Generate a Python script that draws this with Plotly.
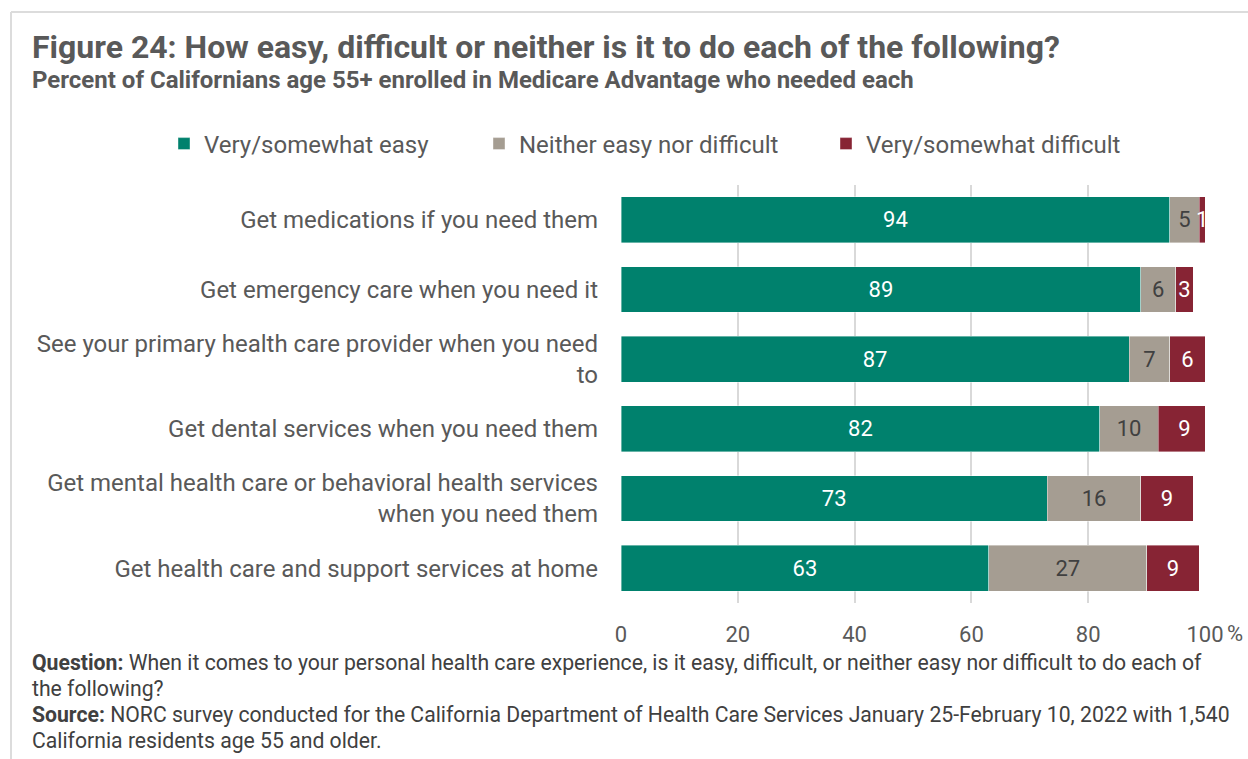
import plotly.graph_objects as go

# Survey items (top to bottom) and shares of respondents, in percent
items = [
    "Get medications if you need them",
    "Get emergency care when you need it",
    "See your primary health care provider when you need<br>to",
    "Get dental services when you need them",
    "Get mental health care or behavioral health services<br>when you need them",
    "Get health care and support services at home",
]
easy = [94, 89, 87, 82, 73, 63]
neither = [5, 6, 7, 10, 16, 27]
difficult = [1, 3, 6, 9, 9, 9]

series_names = ["Very/somewhat easy", "Neither easy nor difficult", "Very/somewhat difficult"]
x_ticks = [0, 20, 40, 60, 80, 100]

W, H = 1248, 759
L, R, T, B = 621, 1205, 185, 603
FONT = "Roboto"
GREY_TXT = "#595959"


def px_x(px):
    return (px - L) / (R - L)


def px_y(py):
    return (B - py) / (B - T)


fig = go.Figure()
series = [
    (series_names[0], easy, "#00816D", "white", "legend"),
    (series_names[1], neither, "#A59D92", "#404040", "legend2"),
    (series_names[2], difficult, "#872434", "white", "legend3"),
]
for name, vals, color, tcolor, leg in series:
    fig.add_trace(go.Bar(
        y=items, x=vals, name=name, orientation="h", legend=leg,
        marker=dict(color=color, line=dict(color="rgba(255,255,255,0.5)", width=0.8)),
        text=[str(v) for v in vals], textposition="inside",
        insidetextanchor="middle", textangle=0, constraintext="none",
        textfont=dict(family=FONT, size=22, color=tcolor),
        hoverinfo="skip",
    ))


def legend_at(square_x):
    # one single-entry legend per series, anchored by its colour swatch
    return dict(
        orientation="h", xref="container", yref="container",
        x=(square_x - 20) / W, y=1 - 144 / H, xanchor="left", yanchor="middle",
        font=dict(family=FONT, size=24, color=GREY_TXT),
        bgcolor="rgba(0,0,0,0)", itemclick=False, itemdoubleclick=False,
    )


fig.update_layout(
    width=W, height=H,
    margin=dict(l=L, r=W - R, t=T, b=H - B, autoexpand=False),
    barmode="stack", bargap=0.34,
    paper_bgcolor="white", plot_bgcolor="white",
    font=dict(family=FONT, color=GREY_TXT),
    showlegend=True,
    legend=legend_at(184),
    legend2=legend_at(499),
    legend3=legend_at(846),
    xaxis=dict(
        range=[0, 100], tickvals=x_ticks, ticktext=[str(t) for t in x_ticks],
        showgrid=True, gridcolor="#d9d9d9", gridwidth=1.5,
        zeroline=False, showline=False, ticks="", ticklabelstandoff=16,
        tickfont=dict(family=FONT, size=22, color=GREY_TXT), automargin=False,
    ),
    yaxis=dict(
        autorange="reversed", showgrid=False, zeroline=False, showline=False,
        ticks="", ticklabelstandoff=22, automargin=False,
        tickfont=dict(family=FONT, size=24, color=GREY_TXT),
    ),
)

FOOT = "#404040"
FOOT_SIZE = 21.2
annotations = [
    dict(text="<b>Figure 24: How easy, difficult or neither is it to do each of the following?</b>",
         x=px_x(30), y=px_y(47), font=dict(size=32, color=GREY_TXT)),
    dict(text="<b>Percent of Californians age 55+ enrolled in Medicare Advantage who needed each</b>",
         x=px_x(30), y=px_y(80), font=dict(size=24, color=GREY_TXT)),
    dict(text="<b>Question:</b> When it comes to your personal health care experience, is it easy, difficult, or neither easy nor difficult to do each of",
         x=px_x(30), y=px_y(662), font=dict(size=FOOT_SIZE, color=FOOT)),
    dict(text="the following?",
         x=px_x(30), y=px_y(688), font=dict(size=FOOT_SIZE, color=FOOT)),
    dict(text="<b>Source:</b> NORC survey conducted for the California Department of Health Care Services January 25-February 10, 2022 with 1,540",
         x=px_x(30), y=px_y(714), font=dict(size=FOOT_SIZE, color=FOOT)),
    dict(text="California residents age 55 and older.",
         x=px_x(30), y=px_y(740), font=dict(size=FOOT_SIZE, color=FOOT)),
]
for a in annotations:
    fig.add_annotation(xref="paper", yref="paper", xanchor="left", yanchor="middle",
                       showarrow=False, font_family=FONT, **a)

fig.add_annotation(text="%", xref="x", x=100, yref="paper", y=px_y(633),
                   xanchor="center", yanchor="middle", xshift=30, showarrow=False,
                   font=dict(family=FONT, size=22, color=GREY_TXT))

# Light frame around the figure
fig.add_shape(type="line", xref="paper", yref="paper",
              x0=px_x(11), x1=px_x(W + 5), y0=px_y(12), y1=px_y(12),
              line=dict(color="#dcdcdc", width=2))
fig.add_shape(type="line", xref="paper", yref="paper",
              x0=px_x(11), x1=px_x(11), y0=px_y(12), y1=px_y(H + 5),
              line=dict(color="#dcdcdc", width=2))

fig.write_html("out.html")
